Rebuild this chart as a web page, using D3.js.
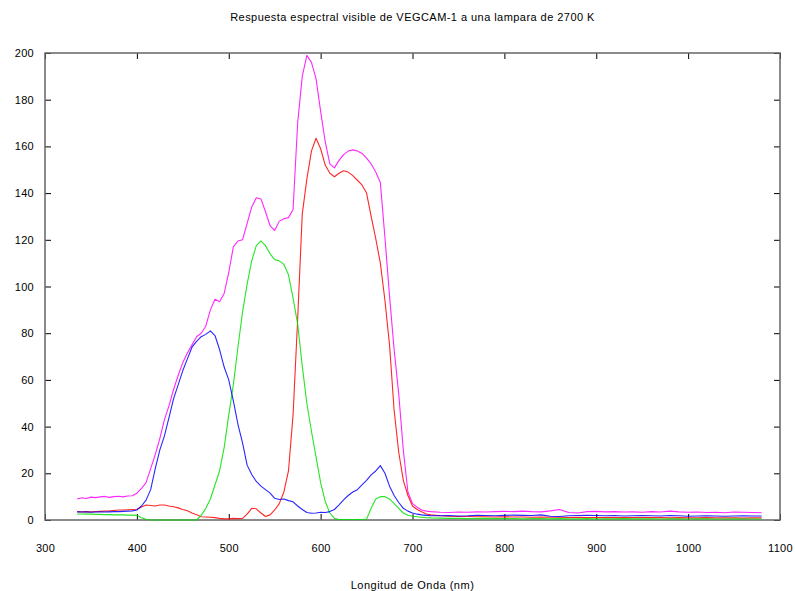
<!DOCTYPE html>
<html>
<head>
<meta charset="utf-8">
<script src="https://cdn.jsdelivr.net/npm/d3@7/dist/d3.min.js"></script>
<style>
  html, body { margin: 0; padding: 0; background: #fff; }
  svg { display: block; font-family: "Liberation Sans", Arial, sans-serif; }
</style>
</head>
<body>
<svg id="chart" width="795" height="591"></svg>
<script>
// Wavelengths (nm): 5 nm steps through the visible band, 10 nm steps in the near infrared
const wavelengths = [
  335,340,345,350,355,360,365,370,375,380,385,390,395,400,405,410,415,420,425,430,
  435,440,445,450,455,460,465,470,475,480,485,490,495,500,505,510,515,520,525,530,
  535,540,545,550,555,560,565,570,575,580,585,590,595,600,605,610,615,620,625,630,
  635,640,645,650,655,660,665,670,675,680,685,690,695,700,705,710,715,720,
  730,740,750,760,770,780,790,800,810,820,830,840,850,860,870,880,890,900,
  910,920,930,940,950,960,970,980,990,1000,1010,1020,1030,1040,1050,1060,1070,1080
];

// Total response (magenta)
const totalResponse = [
  9.0,9.5,9.2,9.8,9.6,9.9,10.1,9.7,10.0,10.2,9.9,10.3,10.4,11.5,13.5,16,22,28,35,43,
  49,56,62,67.5,71.5,75,78.5,80,83,90,94.5,93.5,97,106,117,119.5,120,127,134,138,
  137.5,132,126,124,128,129,129.5,133,170,190,199,196,189,175,162,152.5,150.8,154,156.5,158,
  158.5,158,157,155,152.5,149,144.5,121,96,73,54,30,12,7,5.5,4.3,3.8,3.6,
  3.3,3.2,3.4,3.3,3.5,3.4,3.6,3.7,3.6,3.8,3.6,3.5,3.9,4.5,3.2,3.0,3.6,3.7,
  3.5,3.6,3.4,3.5,3.3,3.6,3.4,3.8,3.5,3.3,3.4,3.2,3.3,3.1,3.4,3.3,3.2,3.1
];

// Red channel
const redChannel = [
  3.6,3.5,3.6,3.5,3.6,3.7,3.8,3.9,4.1,4.3,4.3,4.4,4.5,4.6,5.6,6.4,6.2,6.0,6.4,6.4,
  6.0,5.7,5.2,4.5,4.0,3.0,2.2,1.4,1.3,1.2,1.0,0.7,0.5,0.5,0.7,0.6,0.7,2.5,5.0,4.8,
  3.0,1.5,2.2,4.3,7.0,12,21,45,86,131,146,158,163.5,159,152,148.5,147,148.5,149.6,149,
  147.5,145.5,143.5,140,130,120.5,110,94,75,47,29,17,10.5,6,4.5,3.5,2.6,2.2,
  1.8,1.6,1.5,1.5,1.4,1.4,1.3,1.4,1.3,1.3,1.2,1.3,1.2,1.2,1.1,1.2,1.1,1.1,
  1.0,1.1,1.0,1.0,1.1,1.0,1.0,0.9,1.0,0.9,0.9,1.0,0.9,0.9,0.9,0.8,0.9,0.9
];

// Green channel
const greenChannel = [
  2.6,2.6,2.5,2.5,2.4,2.4,2.3,2.3,2.2,2.2,2.2,2.1,2.1,2.0,1.0,0.3,0,0,0,0,
  0,0,0,0,0,0,0,2,5,9,15,21,31,45,58,74,89,101,111,117.5,
  119.5,117.5,114,111.5,111,109.5,105,95,84,66,50,38,27,16,8,3,0.7,0.2,0.2,0.2,
  0.2,0.2,0.2,0.4,5,9,10,10,9,7,5,3,2,1.6,1.4,1.2,1.0,0.9,
  0.8,0.7,0.7,0.6,0.6,0.7,0.6,0.6,0.6,0.5,0.6,0.6,0.5,0.6,0.5,0.5,0.6,0.5,
  0.5,0.5,0.6,0.5,0.5,0.5,0.4,0.5,0.5,0.4,0.5,0.5,0.4,0.4,0.5,0.4,0.4,0.4
];

// Blue channel
const blueChannel = [
  3.5,3.4,3.5,3.3,3.4,3.5,3.4,3.5,3.6,3.6,3.7,3.8,3.9,4.3,6.0,8.5,13,22,30,36,
  44,52,58,64,69,74,76.5,78.5,79.5,81,79,73,65.5,60,51,41,33,23.5,19.5,16.5,
  14.5,13,11.5,9.3,8.8,9,8.3,7.8,6,4.5,3.2,2.9,3.0,3.3,3.2,3.6,4.5,6.5,8.6,10.5,
  12,13,15,17,19.3,21,23.3,20,14.5,10.5,7.5,5,3.8,3,2.5,2.2,2.0,1.8,
  1.8,1.9,1.7,1.8,2.0,1.9,1.8,2.0,2.1,2.0,1.9,2.2,1.6,1.5,1.8,1.9,2.0,1.9,
  1.8,1.9,1.7,1.8,1.9,1.8,1.7,1.9,1.8,1.6,1.7,1.8,1.7,1.6,1.7,1.8,1.7,1.7
];

const xTicks = [300, 400, 500, 600, 700, 800, 900, 1000, 1100];
const yTicks = [0, 20, 40, 60, 80, 100, 120, 140, 160, 180, 200];

const titleText = "Respuesta espectral visible de VEGCAM-1 a una lampara de 2700 K";
const xLabelText = "Longitud de Onda (nm)";

const series = [
  { values: totalResponse, color: "#ff00ff" },
  { values: redChannel,    color: "#ff0000" },
  { values: greenChannel,  color: "#00e000" },
  { values: blueChannel,   color: "#0000ff" }
];

const svg = d3.select("#chart");
const box = { left: 45, right: 780, top: 53, bottom: 520 };

const x = d3.scaleLinear().domain([300, 1100]).range([box.left, box.right]);
const y = d3.scaleLinear().domain([0, 200]).range([box.bottom, box.top]);

// Title
svg.append("text")
  .attr("x", (box.left + box.right) / 2)
  .attr("y", 21)
  .attr("text-anchor", "middle")
  .attr("font-size", 11)
  .attr("letter-spacing", 0.45)
  .attr("fill", "#000")
  .text(titleText);

// X axis title
svg.append("text")
  .attr("x", (box.left + box.right) / 2)
  .attr("y", 589)
  .attr("text-anchor", "middle")
  .attr("font-size", 11)
  .attr("letter-spacing", 0.5)
  .attr("fill", "#000")
  .text(xLabelText);

// Axes with inward ticks on all four sides
function styleAxis(g) {
  g.select(".domain").remove();
  g.selectAll(".tick line").attr("stroke", "#000").attr("stroke-width", 1);
  g.selectAll(".tick text").attr("fill", "#000").attr("font-size", 11)
    .attr("letter-spacing", 0.3)
    .attr("font-family", "Liberation Sans, Arial, sans-serif");
}

svg.append("g")
  .attr("transform", `translate(0,${box.bottom})`)
  .call(d3.axisBottom(x).tickValues(xTicks).tickSize(-6).tickPadding(24).tickFormat(d3.format("d")))
  .call(styleAxis);

svg.append("g")
  .attr("transform", `translate(0,${box.top})`)
  .call(d3.axisTop(x).tickValues(xTicks).tickSize(-6).tickFormat(""))
  .call(styleAxis);

svg.append("g")
  .attr("transform", `translate(${box.left},0)`)
  .call(d3.axisLeft(y).tickValues(yTicks).tickSize(-6).tickPadding(11).tickFormat(d3.format("d")))
  .call(styleAxis);

svg.append("g")
  .attr("transform", `translate(${box.right},0)`)
  .call(d3.axisRight(y).tickValues(yTicks).tickSize(-6).tickFormat(""))
  .call(styleAxis);

// Plot frame
svg.append("rect")
  .attr("x", box.left)
  .attr("y", box.top)
  .attr("width", box.right - box.left)
  .attr("height", box.bottom - box.top)
  .attr("fill", "none")
  .attr("stroke", "#666")
  .attr("stroke-width", 1.5);

// Spectral response curves
const line = d3.line()
  .x((d, i) => x(wavelengths[i]))
  .y(d => y(d));

svg.append("g")
  .selectAll("path")
  .data(series)
  .join("path")
  .attr("d", d => line(d.values))
  .attr("fill", "none")
  .attr("stroke", d => d.color)
  .attr("stroke-width", 1.1)
  .attr("stroke-opacity", 0.85)
  .attr("stroke-linejoin", "round");
</script>
</body>
</html>
